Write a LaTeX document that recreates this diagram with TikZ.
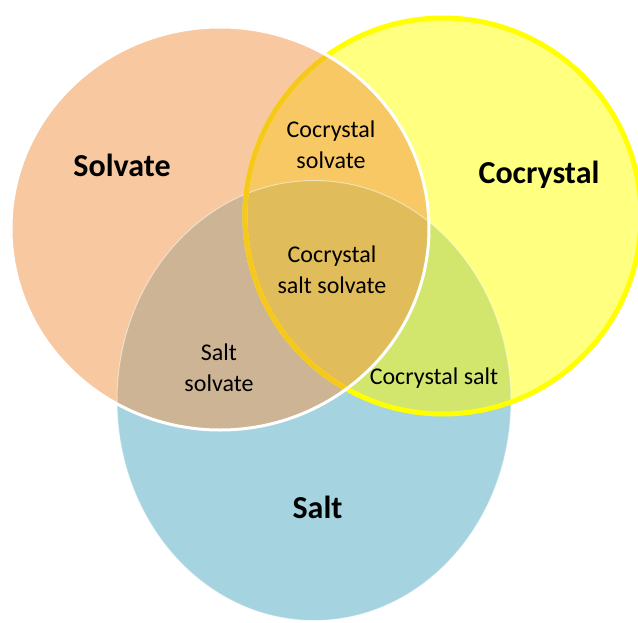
\documentclass[tikz,border=0pt]{standalone}
\usepackage{fontspec}
\setmainfont{Carlito}
\definecolor{csolv}{RGB}{248,200,160}
\definecolor{ccocr}{RGB}{255,255,128}
\definecolor{csalt}{RGB}{165,211,224}
\definecolor{csolvcocr}{RGB}{248,200,100}
\definecolor{csolvsalt}{RGB}{204,180,148}
\definecolor{ccocrsalt}{RGB}{210,230,110}
\definecolor{call}{RGB}{225,188,90}
\definecolor{cyel}{RGB}{255,255,0}
\definecolor{cyelin}{RGB}{246,200,30}
\begin{document}
\begin{tikzpicture}[x=1pt,y=-1pt,
  lab/.style={font=\fontsize{24}{31}\selectfont, align=center, anchor=base, inner sep=0pt},
  big/.style={font=\fontsize{32}{38}\selectfont\bfseries, anchor=base, inner sep=0pt}]
\useasboundingbox (0,0) rectangle (638,622);
\fill[white] (0,0) rectangle (638,622);
% base fills
\fill[csalt] (314,400.5) ellipse [x radius=197pt, y radius=220pt];
\fill[ccocr] (443,216) ellipse [x radius=198pt, y radius=198pt];
\fill[csolv] (220,228.5) ellipse [x radius=209pt, y radius=201.5pt];
% pairwise
\begin{scope}
  \clip (220,228.5) ellipse [x radius=209pt, y radius=201.5pt];
  \fill[csolvcocr] (443,216) ellipse [x radius=198pt, y radius=198pt];
  \fill[csolvsalt] (314,400.5) ellipse [x radius=197pt, y radius=220pt];
\end{scope}
\begin{scope}
  \clip (443,216) ellipse [x radius=198pt, y radius=198pt];
  \fill[ccocrsalt] (314,400.5) ellipse [x radius=197pt, y radius=220pt];
  \clip (220,228.5) ellipse [x radius=209pt, y radius=201.5pt];
  \fill[call] (314,400.5) ellipse [x radius=197pt, y radius=220pt];
\end{scope}
% salt faint edge
\draw[white, line width=1pt, opacity=0.5] (314,400.5) ellipse [x radius=197pt, y radius=220pt];
% cocrystal outline
\draw[cyel, line width=5pt] (443,216) ellipse [x radius=198pt, y radius=198pt];
\begin{scope}
  \clip (220,228.5) ellipse [x radius=209pt, y radius=201.5pt];
  \draw[cyelin, line width=5pt] (443,216) ellipse [x radius=198pt, y radius=198pt];
\end{scope}
% solvate outline
\draw[white, line width=3pt] (220,228.5) ellipse [x radius=209pt, y radius=201.5pt];
% labels
\node[big] (solvate) at (122,176.5) {Solvate};
\node[big] (cocrystal) at (539,183) {Cocrystal};
\node[big] (salt) at (317.5,518) {Salt};
\node[lab] (cocrsolv) at (331,168.5) {Cocrystal\\solvate};
\node[lab] (cocrsaltsolv) at (332,293.5) {Cocrystal\\salt solvate};
\node[lab] (saltsolv) at (219,391.5) {Salt\\solvate};
\node[lab] (cocrsalt) at (434,384) {Cocrystal salt};
\end{tikzpicture}
\end{document}
